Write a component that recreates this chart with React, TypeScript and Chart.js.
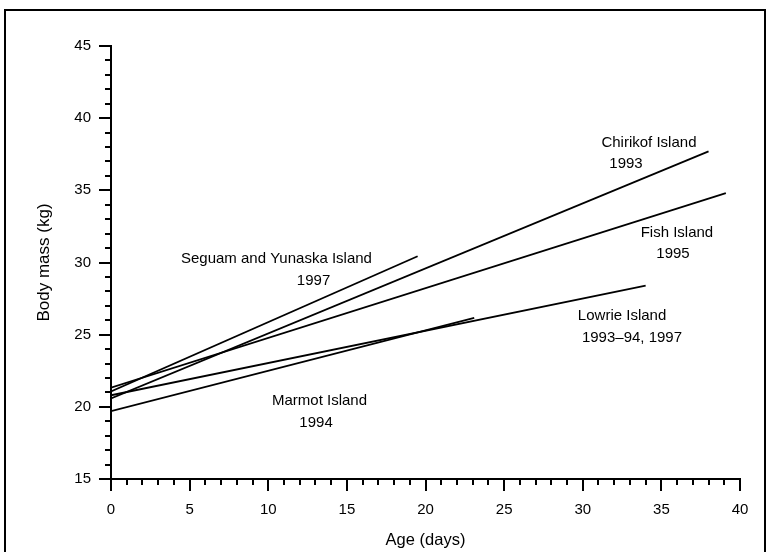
import React, { useEffect, useRef } from "react";
import { Chart, registerables } from "chart.js";

Chart.register(...registerables);

// Regression lines: x = age (days), y = body mass (kg)
const seguamX = [0, 19.5];
const seguamY = [21.07, 30.43];
const chirikofX = [0, 38.0];
const chirikofY = [20.58, 37.7];
const fishX = [0, 39.1];
const fishY = [21.33, 34.8];
const lowrieX = [0, 34.0];
const lowrieY = [20.8, 28.4];
const marmotX = [0, 23.1];
const marmotY = [19.7, 26.16];

const xTicksMajor = [0, 5, 10, 15, 20, 25, 30, 35, 40];
const yTicksMajor = [15, 20, 25, 30, 35, 40, 45];

// Text annotations anchored in data coordinates
const labelTexts = [
  "Seguam and Yunaska Island", "1997",
  "Chirikof Island", "1993",
  "Fish Island", "1995",
  "Lowrie Island", "1993–94, 1997",
  "Marmot Island", "1994",
];
const labelX = [10.52, 12.88, 34.21, 32.75, 35.99, 35.74, 32.5, 33.13, 13.26, 13.04];
const labelY = [30.27, 28.72, 38.27, 36.85, 32.05, 30.62, 26.28, 24.76, 20.4, 18.9];

const FONT = "'Liberation Sans', Arial, Helvetica, sans-serif";

function pts(xs: number[], ys: number[]) {
  return xs.map((x, i) => ({ x, y: ys[i] }));
}

export default function App() {
  const ref = useRef<HTMLCanvasElement | null>(null);

  useEffect(() => {
    if (!ref.current) return;
    const lineDs = (xs: number[], ys: number[], label: string) => ({
      label,
      data: pts(xs, ys),
      borderColor: "#000",
      borderWidth: 1.8,
      pointRadius: 0,
      showLine: true,
      fill: false,
      tension: 0,
    });

    const frameAndLabels = {
      id: "frameAndLabels",
      afterDatasetsDraw(chart: any) {
        const ctx = chart.ctx;
        const xs = chart.scales.x;
        const ys = chart.scales.y;
        ctx.save();
        ctx.fillStyle = "#000";
        ctx.font = `15px ${FONT}`;
        ctx.textAlign = "center";
        ctx.textBaseline = "middle";
        labelTexts.forEach((t, i) => {
          ctx.fillText(t, xs.getPixelForValue(labelX[i]), ys.getPixelForValue(labelY[i]));
        });
        ctx.restore();
      },
      afterDraw(chart: any) {
        const ctx = chart.ctx;
        ctx.save();
        ctx.strokeStyle = "#000";
        ctx.lineWidth = 2;
        ctx.strokeRect(5, 10, 760, 600);
        ctx.restore();
      },
    };

    const chart = new Chart(ref.current, {
      type: "scatter",
      data: {
        datasets: [
          lineDs(seguamX, seguamY, "Seguam and Yunaska Island 1997"),
          lineDs(chirikofX, chirikofY, "Chirikof Island 1993"),
          lineDs(fishX, fishY, "Fish Island 1995"),
          lineDs(lowrieX, lowrieY, "Lowrie Island 1993–94, 1997"),
          lineDs(marmotX, marmotY, "Marmot Island 1994"),
        ] as any,
      },
      options: {
        responsive: false,
        animation: false,
        events: [],
        layout: { padding: { top: 46, right: 27, bottom: 0, left: 0 } },
        plugins: {
          legend: { display: false },
          tooltip: { enabled: false },
        },
        scales: {
          x: {
            type: "linear",
            position: "bottom",
            weight: 1,
            min: 0,
            max: 40,
            afterBuildTicks: (s: any) => {
              s.ticks = xTicksMajor.map((v) => ({ value: v }));
            },
            ticks: {
              color: "#000",
              font: { family: FONT, size: 15 },
              padding: 10,
              maxRotation: 0,
            },
            grid: {
              drawOnChartArea: false,
              drawTicks: true,
              tickLength: 12,
              color: "#000",
              lineWidth: 2,
            },
            border: { display: true, color: "#000", width: 2 },
            title: {
              display: true,
              text: "Age (days)",
              color: "#000",
              font: { family: FONT, size: 16.5 },
              padding: { top: 0, bottom: 2 },
            },
            afterFit: (s: any) => {
              s.height = 73;
            },
          },
          x2: {
            type: "linear",
            position: "bottom",
            weight: 0,
            min: 0,
            max: 40,
            ticks: { display: false, stepSize: 1 },
            grid: {
              drawOnChartArea: false,
              drawTicks: true,
              tickLength: 6,
              color: "#000",
              lineWidth: 2,
            },
            border: { display: false },
            afterFit: (s: any) => {
              s.height = 0;
            },
          },
          y: {
            type: "linear",
            position: "left",
            weight: 1,
            min: 15,
            max: 45,
            afterBuildTicks: (s: any) => {
              s.ticks = yTicksMajor.map((v) => ({ value: v }));
            },
            ticks: {
              color: "#000",
              font: { family: FONT, size: 15 },
              padding: 8,
            },
            grid: {
              drawOnChartArea: false,
              drawTicks: true,
              tickLength: 12,
              color: "#000",
              lineWidth: 2,
            },
            border: { display: true, color: "#000", width: 2 },
            title: {
              display: true,
              text: "Body mass (kg)",
              color: "#000",
              font: { family: FONT, size: 17 },
              padding: { top: 34, bottom: 0 },
            },
            afterFit: (s: any) => {
              s.width = 111;
            },
          },
          y2: {
            type: "linear",
            position: "left",
            weight: 0,
            min: 15,
            max: 45,
            ticks: { display: false, stepSize: 1 },
            grid: {
              drawOnChartArea: false,
              drawTicks: true,
              tickLength: 6,
              color: "#000",
              lineWidth: 2,
            },
            border: { display: false },
            afterFit: (s: any) => {
              s.width = 0;
            },
          },
        },
      } as any,
      plugins: [frameAndLabels],
    });
    return () => chart.destroy();
  }, []);

  return (
    <canvas
      ref={ref}
      width={767}
      height={552}
      style={{ position: "fixed", left: 0, top: 0, width: 767, height: 552, display: "block", background: "#fff" }}
    />
  );
}
